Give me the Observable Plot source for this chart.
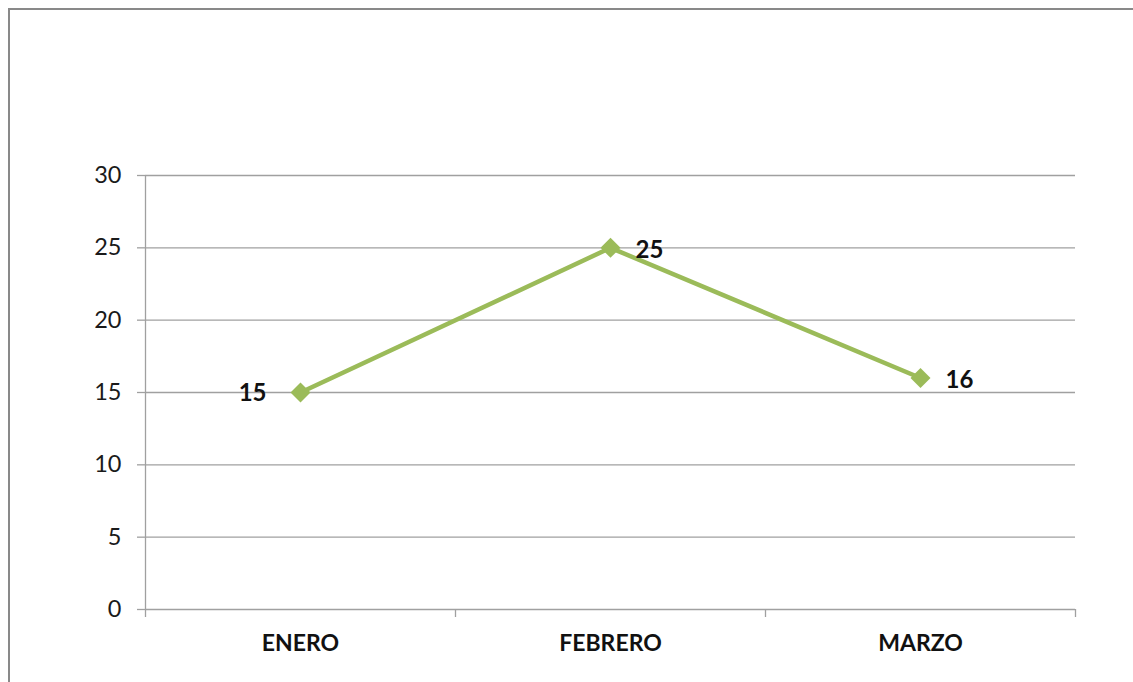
<!DOCTYPE html>
<html>
<head>
<meta charset="utf-8">
<script src="https://cdn.jsdelivr.net/npm/d3@7"></script>
<script src="https://cdn.jsdelivr.net/npm/@observablehq/plot@0.6"></script>
<style>
  html, body { margin: 0; padding: 0; background: #fff; }
  #wrap { position: relative; width: 1133px; height: 682px; overflow: hidden; }
  #border { position: absolute; left: 8px; top: 8px; width: 1200px; height: 700px;
            border-left: 2px solid #898989; border-top: 2px solid #898989; }
  #chart { position: absolute; left: 0; top: 0; }
</style>
</head>
<body>
<div id="wrap">
  <div id="border"></div>
  <div id="chart"></div>
</div>
<script>
// Monthly values
const months = ["ENERO", "FEBRERO", "MARZO"];
const values = [15, 25, 16];
const yTicks = [0, 5, 10, 15, 20, 25, 30];

const data = months.map((m, i) => ({i, month: m, value: values[i]}));
const centers = months.map((_, i) => i);
const boundaries = d3.range(-0.5, months.length, 1);

const green = "#9bbb59";
const gray = "#a0a0a0";
const font = "Lato, 'Open Sans', sans-serif";

const chart = Plot.plot({
  width: 1133,
  height: 682,
  marginLeft: 145,
  marginRight: 58,
  marginTop: 175,
  marginBottom: 73,
  style: {fontFamily: font, background: "transparent", color: "#222"},
  x: {type: "linear", domain: [-0.5, months.length - 0.5]},
  y: {domain: [0, 30]},
  marks: [
    Plot.gridY(yTicks, {stroke: gray, strokeOpacity: 1, strokeWidth: 1.3}),
    Plot.ruleX([-0.5], {stroke: gray, strokeWidth: 1.3}),
    Plot.axisY({ticks: yTicks, tickSize: 8, tickPadding: 16, fontSize: 23.5,
                stroke: gray, strokeWidth: 1.3, label: null, fill: "#1a1a1a"}),
    Plot.axisX({ticks: boundaries, tickSize: 8, tickFormat: () => "",
                stroke: gray, strokeWidth: 1.3, label: null}),
    Plot.axisX({ticks: centers, tickSize: 0, tickPadding: 25,
                tickFormat: i => months[i], fontSize: 23, fontWeight: "bold",
                label: null, fill: "#111"}),
    Plot.line(data, {x: "i", y: "value", stroke: green, strokeWidth: 4.5}),
    Plot.dot(data, {x: "i", y: "value", symbol: "diamond2", r: 9, fill: green, stroke: "none"}),
    Plot.text(data.filter(d => d.i === 0), {x: "i", y: "value", text: d => String(d.value),
              textAnchor: "end", dx: -34, dy: 1, fontSize: 24, fontWeight: "bold", fill: "#111"}),
    Plot.text(data.filter(d => d.i !== 0), {x: "i", y: "value", text: d => String(d.value),
              textAnchor: "start", dx: 25, dy: 2, fontSize: 24, fontWeight: "bold", fill: "#111"})
  ]
});
document.getElementById("chart").appendChild(chart);
</script>
</body>
</html>
